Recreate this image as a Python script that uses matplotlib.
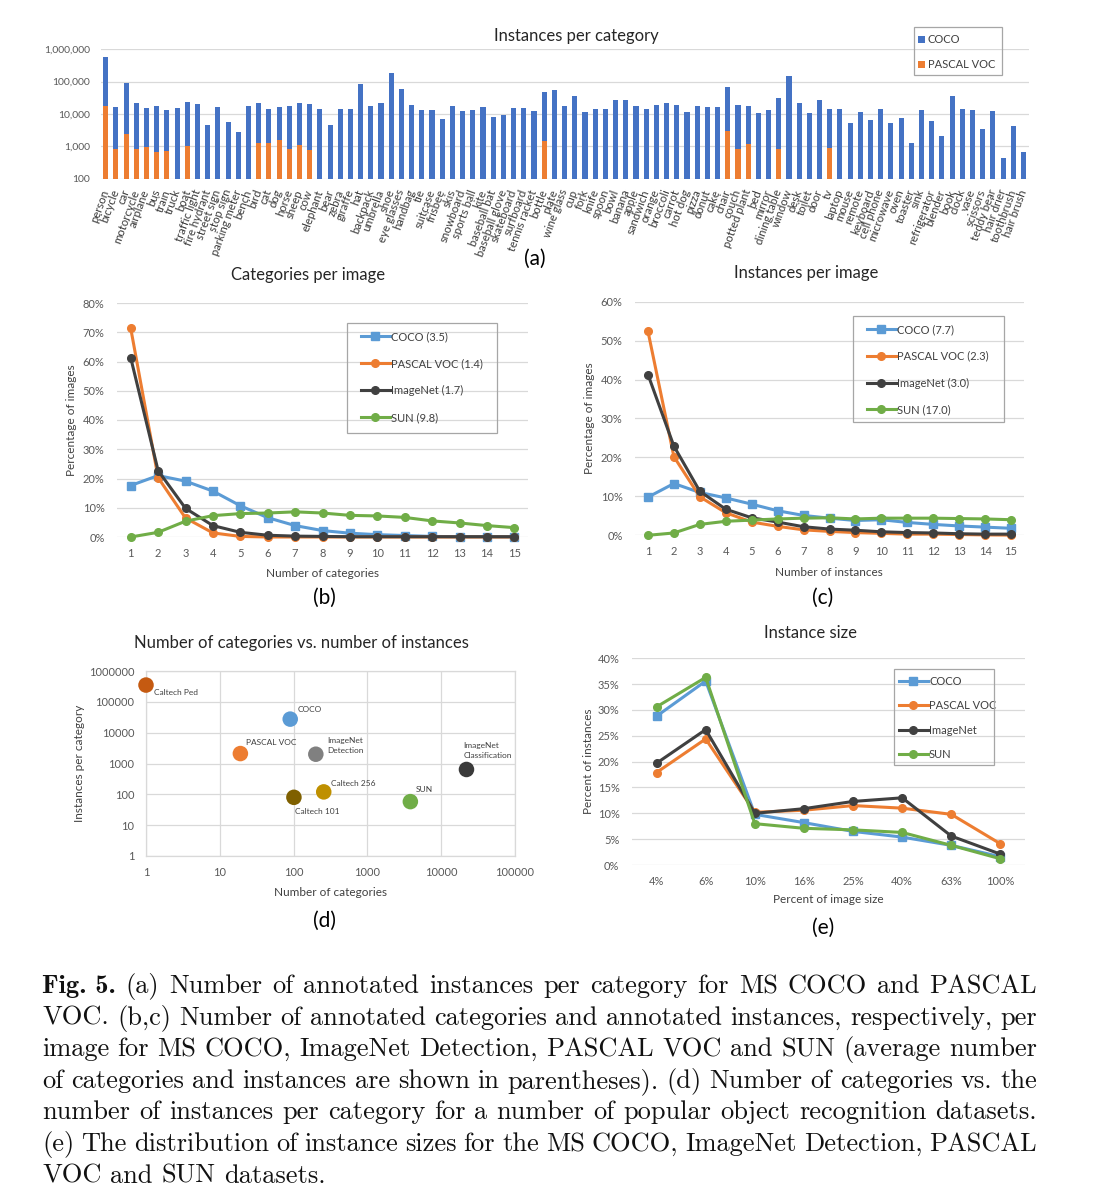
import numpy as np
import matplotlib
matplotlib.use('Agg')
import matplotlib.pyplot as plt
from matplotlib.patches import Rectangle
from matplotlib.ticker import FuncFormatter, FixedLocator, NullLocator

W, H = 1102, 1199

# ---------------- data ----------------
CATEGORIES = [
    'person', 'bicycle', 'car', 'motorcycle', 'airplane', 'bus', 'train', 'truck', 'boat',
    'traffic light', 'fire hydrant', 'street sign', 'stop sign', 'parking meter', 'bench',
    'bird', 'cat', 'dog', 'horse', 'sheep', 'cow', 'elephant', 'bear', 'zebra', 'giraffe',
    'hat', 'backpack', 'umbrella', 'shoe', 'eye glasses', 'handbag', 'tie', 'suitcase',
    'frisbee', 'skis', 'snowboard', 'sports ball', 'kite', 'baseball bat', 'baseball glove',
    'skateboard', 'surfboard', 'tennis racket', 'bottle', 'plate', 'wine glass', 'cup',
    'fork', 'knife', 'spoon', 'bowl', 'banana', 'apple', 'sandwich', 'orange', 'broccoli',
    'carrot', 'hot dog', 'pizza', 'donut', 'cake', 'chair', 'couch', 'potted plant', 'bed',
    'mirror', 'dining table', 'window', 'desk', 'toilet', 'door', 'tv', 'laptop', 'mouse',
    'remote', 'keyboard', 'cell phone', 'microwave', 'oven', 'toaster', 'sink',
    'refrigerator', 'blender', 'book', 'clock', 'vase', 'scissors', 'teddy bear',
    'hair drier', 'toothbrush', 'hair brush']

COCO_COUNTS = [
    565000, 16400, 89000, 22400, 15000, 17300, 13000, 15700, 24000,
    20000, 4600, 16900, 5800, 2800, 17600,
    22400, 14300, 16100, 17300, 21400, 20000, 14300, 4450, 14300, 14300,
    82800, 17300, 21400, 181000, 58000, 19000, 13600, 13300,
    7000, 17700, 12700, 13600, 16900, 8070, 9100,
    15000, 15700, 12100, 46800, 55200, 18100, 36000,
    11500, 13900, 14600, 27700, 27100, 17300, 14600, 18500, 21900,
    18500, 11200, 17300, 16900, 16900, 66800, 18500, 17300, 11000,
    13300, 32000, 153000, 21400, 11000, 27100, 13900, 13900, 5400,
    11500, 6500, 14300, 5250, 7500, 1300, 13600,
    6070, 2090, 35200, 14300, 13000, 3430, 12100,
    440, 4270, 670]

VOC_COUNTS = [
    17700, 830, 2400, 810, 980, 670, 700, 0, 1050,
    0, 0, 0, 0, 0, 0,
    1230, 1260, 1570, 810, 1070, 770, 0, 0, 0, 0,
    0, 0, 0, 0, 0, 0, 0, 0,
    0, 0, 0, 0, 0, 0, 0,
    0, 0, 0, 1500, 0, 0, 0,
    0, 0, 0, 0, 0, 0, 0, 0, 0,
    0, 0, 0, 0, 0, 2980, 830, 1210, 0,
    0, 810, 0, 0, 0, 0, 870, 0, 0,
    0, 0, 0, 0, 0, 0, 0,
    0, 0, 0, 0, 0, 0, 0,
    0, 0, 0]

N_VALUES = list(range(1, 16))

CAT_PER_IMG = {
    'COCO (3.5)': [17.6, 21.0, 19.1, 15.7, 10.7, 6.6, 3.9, 2.2, 1.3, 0.8, 0.5, 0.2, 0.1, 0.1, 0.05],
    'PASCAL VOC (1.4)': [71.4, 20.3, 6.5, 1.4, 0.2, 0, 0, 0, 0, 0, 0, 0, 0, 0, 0],
    'ImageNet (1.7)': [61.3, 22.7, 9.8, 3.9, 1.6, 0.6, 0.3, 0.2, 0.1, 0.1, 0.1, 0.1, 0.1, 0.1, 0.1],
    'SUN (9.8)': [0, 1.6, 5.4, 7.3, 8.0, 8.2, 8.6, 8.2, 7.4, 7.2, 6.7, 5.5, 4.8, 3.9, 3.2],
}

INST_PER_IMG = {
    'COCO (7.7)': [9.8, 13.3, 11.0, 9.6, 8.0, 6.3, 5.1, 4.4, 3.8, 4.0, 3.3, 2.8, 2.4, 2.1, 1.8],
    'PASCAL VOC (2.3)': [52.4, 20.2, 9.9, 5.8, 3.4, 2.3, 1.4, 1.0, 0.7, 0.5, 0.3, 0.3, 0.2, 0.1, 0.05],
    'ImageNet (3.0)': [41.3, 22.9, 11.3, 6.7, 4.5, 3.4, 2.2, 1.6, 1.3, 0.9, 0.7, 0.6, 0.4, 0.3, 0.3],
    'SUN (17.0)': [0, 0.6, 2.8, 3.6, 3.9, 4.2, 4.4, 4.5, 4.2, 4.4, 4.4, 4.4, 4.3, 4.2, 4.0],
}

SIZE_BINS = ['4%', '6%', '10%', '16%', '25%', '40%', '63%', '100%']
INST_SIZE = {
    'COCO': [28.8, 35.6, 9.8, 8.2, 6.5, 5.4, 3.8, 1.6],
    'PASCAL VOC': [17.9, 24.4, 10.2, 10.6, 11.5, 11.0, 9.8, 4.1],
    'ImageNet': [19.7, 26.2, 10.0, 10.9, 12.3, 13.0, 5.6, 2.1],
    'SUN': [30.6, 36.3, 8.0, 7.1, 6.8, 6.3, 3.8, 1.2],
}

DATASETS = ['Caltech Ped', 'COCO', 'PASCAL VOC', 'ImageNet\nDetection', 'Caltech 256',
            'Caltech 101', 'SUN', 'ImageNet\nClassification']
NUM_CATEGORIES = [1, 90, 19, 200, 256, 101, 3820, 22000]
INST_PER_CAT = [350000, 27500, 2100, 2000, 120, 80, 58, 640]
DATASET_COLORS = ['#C55A11', '#5B9BD5', '#ED7D31', '#808080', '#BF9000', '#7F6000',
                  '#70AD47', '#3A3A3A']
LABEL_OFFSETS = [(6, -5), (5, 7), (4, 8), (8, 6), (5, 6), (1, -10), (4, 9), (-2, 14)]

CAPTION = [
    'Fig. 5. (a) Number of annotated instances per category for MS COCO and PASCAL',
    'VOC. (b,c) Number of annotated categories and annotated instances, respectively, per',
    'image for MS COCO, ImageNet Detection, PASCAL VOC and SUN (average number',
    'of categories and instances are shown in parentheses). (d) Number of categories vs. the',
    'number of instances per category for a number of popular object recognition datasets.',
    '(e) The distribution of instance sizes for the MS COCO, ImageNet Detection, PASCAL',
    'VOC and SUN datasets.',
]

# ---------------- style ----------------
plt.rcParams['font.family'] = ['Lato', 'DejaVu Sans']
GRID = '#D9D9D9'
TICK = '#595959'
TEXT = '#262626'
LINE_COLORS = ['#5B9BD5', '#ED7D31', '#404040', '#70AD47']
MARKERS = ['s', 'o', 'o', 'o']


def axes_px(x0, y0, x1, y1):
    """axes rectangle from pixel box (top-left origin)"""
    return [x0 / W, 1 - y1 / H, (x1 - x0) / W, (y1 - y0) / H]


def fig_pt(x, y):
    return x / W, 1 - y / H


def excel_style(ax, xpad=8, ypad=9):
    for s in ax.spines.values():
        s.set_visible(False)
    ax.tick_params(length=0, colors=TICK, labelsize=8)
    ax.tick_params(axis='x', pad=xpad)
    ax.tick_params(axis='y', pad=ypad)
    ax.grid(axis='y', color=GRID, linewidth=0.9)
    ax.set_axisbelow(True)


def legend_box(fig, x0, y0, x1, y1):
    fig.patches.append(Rectangle((x0 / W, 1 - y1 / H), (x1 - x0) / W, (y1 - y0) / H,
                                 transform=fig.transFigure, fill=False,
                                 edgecolor='#A6A6A6', linewidth=0.9))


def line_panel(fig, ax, xs, series, title, tpos, xlabel, xlpos, ylabel, ylpos,
               leg_anchor, leg_spacing, box):
    for (name, vals), c, m in zip(series.items(), LINE_COLORS, MARKERS):
        ax.plot(xs, vals, color=c, marker=m, markersize=5.5, linewidth=2.2,
                label=name, clip_on=False, zorder=3)
    excel_style(ax)
    ax.set_title(title, fontsize=12, color=TEXT, x=tpos[0], y=tpos[1], va='center', pad=0)
    ax.set_xlabel(xlabel, fontsize=8.5, color='#404040', va='center')
    ax.xaxis.set_label_coords(*xlpos)
    ax.set_ylabel(ylabel, fontsize=8.5, color='#404040', va='center')
    ax.yaxis.set_label_coords(*ylpos)
    ax.yaxis.set_major_formatter(FuncFormatter(lambda v, p: f'{v:.0f}%'))
    ax.legend(loc='upper left', bbox_to_anchor=fig_pt(*leg_anchor),
              bbox_transform=fig.transFigure, frameon=False, fontsize=8,
              borderpad=0, borderaxespad=0, handlelength=2.6, handletextpad=0.1,
              labelspacing=leg_spacing, labelcolor='#404040')
    legend_box(fig, *box)


fig = plt.figure(figsize=(W / 100, H / 100), dpi=100, facecolor='white')

# ---------------- (a) instances per category ----------------
axa = fig.add_axes(axes_px(100.6, 49.3, 1028.6, 178.7))
xa = np.arange(len(CATEGORIES))
axa.set_yscale('log')
axa.bar(xa, COCO_COUNTS, width=0.5, color='#4472C4', label='COCO', zorder=2)
voc_idx = [i for i, v in enumerate(VOC_COUNTS) if v > 0]
axa.bar(voc_idx, [VOC_COUNTS[i] for i in voc_idx], width=0.5, color='#ED7D31',
        label='PASCAL VOC', zorder=3)
axa.set_ylim(100, 1e6)
axa.set_xlim(-0.5, len(CATEGORIES) - 0.5)
for s in axa.spines.values():
    s.set_visible(False)
axa.grid(axis='y', which='major', color=GRID, linewidth=0.9)
axa.set_axisbelow(True)
axa.yaxis.set_major_locator(FixedLocator([100, 1000, 10000, 100000, 1000000]))
axa.yaxis.set_minor_locator(NullLocator())
axa.yaxis.set_major_formatter(FuncFormatter(lambda v, p: f'{v:,.0f}'))
axa.set_xticks(xa)
axa.set_xticklabels(CATEGORIES, rotation=70, ha='right', va='center',
                    rotation_mode='anchor', fontsize=8.2)
axa.tick_params(length=0, colors=TICK)
axa.tick_params(axis='y', labelsize=7.5, pad=7.5)
axa.tick_params(axis='x', pad=8, labelcolor='#3A3A3A')
axa.set_title('Instances per category', fontsize=12, color=TEXT,
              x=0.513, y=1.103, va='center', pad=0)
axa.legend(loc='upper left', bbox_to_anchor=fig_pt(918, 34), bbox_transform=fig.transFigure,
           frameon=False, fontsize=8, borderpad=0, borderaxespad=0,
           handlelength=0.6, handleheight=0.6, handletextpad=0.3,
           labelspacing=1.3, labelcolor='#404040')
legend_box(fig, 914, 27, 1002, 75)

# ---------------- (b) categories per image ----------------
axb = fig.add_axes(axes_px(117, 303, 528, 537))
axb.set_xlim(0.5, 15.5)
axb.set_ylim(0, 80)
axb.set_xticks(N_VALUES)
axb.set_yticks(range(0, 81, 10))
line_panel(fig, axb, N_VALUES, CAT_PER_IMG, 'Categories per image', (0.465, 1.12),
           'Number of categories', (0.501, -0.158), 'Percentage of images', (-0.110, 0.5),
           (361, 331), 1.45, (347, 323, 497, 433))

# ---------------- (c) instances per image ----------------
axc = fig.add_axes(axes_px(635, 301.7, 1024, 535.3))
axc.set_xlim(0.5, 15.5)
axc.set_ylim(0, 60)
axc.set_xticks(N_VALUES)
axc.set_yticks(range(0, 61, 10))
line_panel(fig, axc, N_VALUES, INST_PER_IMG, 'Instances per image', (0.441, 1.123),
           'Number of instances', (0.4995, -0.158), 'Percentage of images', (-0.116, 0.502),
           (867, 324), 1.42, (853, 316, 1004, 422))

# ---------------- (d) categories vs instances ----------------
axd = fig.add_axes(axes_px(146, 671, 515, 856))
axd.set_xscale('log')
axd.set_yscale('log')
axd.set_xlim(1, 1e5)
axd.set_ylim(1, 1e6)
axd.scatter(NUM_CATEGORIES, INST_PER_CAT, s=125, c=DATASET_COLORS, zorder=3,
            clip_on=False, linewidths=0)
for name, xv, yv, off in zip(DATASETS, NUM_CATEGORIES, INST_PER_CAT, LABEL_OFFSETS):
    axd.annotate(name, (xv, yv), xytext=off, textcoords='offset points',
                 fontsize=6, color='#404040', ha='left', va='center', linespacing=1.5)
for s in axd.spines.values():
    s.set_color(GRID)
    s.set_linewidth(0.9)
axd.grid(True, which='major', color=GRID, linewidth=0.9)
axd.set_axisbelow(True)
axd.xaxis.set_major_locator(FixedLocator([1, 10, 100, 1000, 10000, 100000]))
axd.yaxis.set_major_locator(FixedLocator([1, 10, 100, 1000, 10000, 100000, 1000000]))
axd.xaxis.set_minor_locator(NullLocator())
axd.yaxis.set_minor_locator(NullLocator())
fmt = FuncFormatter(lambda v, p: f'{v:.0f}')
axd.xaxis.set_major_formatter(fmt)
axd.yaxis.set_major_formatter(fmt)
axd.tick_params(length=0, colors=TICK, labelsize=8)
axd.tick_params(axis='x', pad=8)
axd.tick_params(axis='y', pad=8.5)
axd.set_title('Number of categories vs. number of instances', fontsize=12, color=TEXT,
              x=0.420, y=1.151, va='center', pad=0)
axd.set_xlabel('Number of categories', fontsize=8.5, color='#404040', va='center')
axd.xaxis.set_label_coords(0.5005, -0.196)
axd.set_ylabel('Instances per category', fontsize=8.5, color='#404040', va='center')
axd.yaxis.set_label_coords(-0.181, 0.503)

# ---------------- (e) instance size ----------------
axe = fig.add_axes(axes_px(632, 658.3, 1025, 865))
xe = np.arange(len(SIZE_BINS))
axe.set_xlim(-0.5, len(SIZE_BINS) - 0.5)
axe.set_ylim(0, 40)
axe.set_yticks(range(0, 41, 5))
axe.set_xticks(xe)
axe.set_xticklabels(SIZE_BINS)
line_panel(fig, axe, xe, INST_SIZE, 'Instance size', (0.455, 1.122),
           'Percent of image size', (0.499, -0.169), 'Percent of instances', (-0.111, 0.5),
           (899, 676), 1.2, (894, 669, 994, 765))

# ---------------- panel letters ----------------
for lab, (x, y) in zip(['(a)', '(b)', '(c)', '(d)', '(e)'],
                       [(535, 259), (324, 598), (823, 598), (324, 921), (823, 928)]):
    fig.text(*fig_pt(x, y), lab, fontsize=15, color='#000000', ha='center', va='center')

# ---------------- caption (justified) ----------------
renderer = fig.canvas.get_renderer()
X0, X1 = 42, 1037
for i, line in enumerate(CAPTION):
    base = 993 + i * 31.6
    if i == 0:
        words = ['Fig. 5.'] + line.split(' ')[2:]
    else:
        words = line.split(' ')
    objs = []
    for j, w in enumerate(words):
        fam = 'cmb10' if (i == 0 and j == 0) else 'cmr10'
        objs.append(fig.text(0, 1 - base / H, w, fontsize=19, family=fam,
                             va='baseline', ha='left', color='#111111'))
    widths = [t.get_window_extent(renderer).width for t in objs]
    if i == len(CAPTION) - 1:
        gap = 19 * 100 / 72 * 0.333
    else:
        gap = (X1 - X0 - sum(widths)) / (len(words) - 1)
    x = X0
    for t, wd in zip(objs, widths):
        t.set_x(x / W)
        x += wd + gap

fig.savefig('out.png', dpi=100, facecolor='white')
